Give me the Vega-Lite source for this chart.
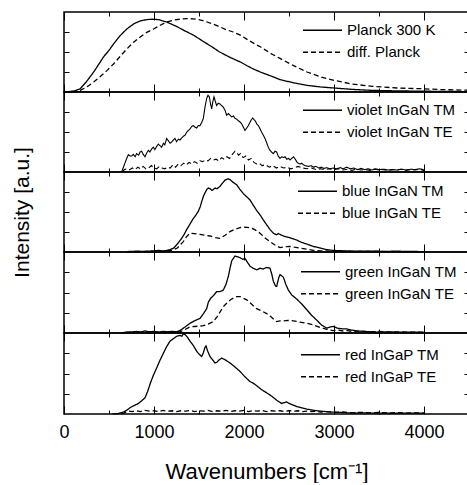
{
"$schema":"https://vega.github.io/schema/vega-lite/v6.json",
"padding":{"left":10,"top":10,"right":0,"bottom":0},
"spacing":0,
"bounds":"flush",
"config":{
 "view":{"stroke":"black","strokeWidth":1.5},
 "font":"Liberation Sans",
 "axis":{"domain":false,"grid":false,"tickColor":"black","tickWidth":1,"labelColor":"black","titleColor":"black","titleFontWeight":"normal","labelFont":"Liberation Sans","titleFont":"Liberation Sans"},
 "legend":{"labelFont":"Liberation Sans","labelFontSize":15,"labelColor":"black","symbolStrokeColor":"black","symbolStrokeWidth":1.3,"symbolSize":1521,"labelOffset":4,"padding":0,"rowPadding":2,"clipHeight":19.5}
},
"datasets":{"d":[
{"p":1,"s":"Planck 300 K","x":0,"y":0},{"p":1,"s":"Planck 300 K","x":60,"y":0.005},{"p":1,"s":"Planck 300 K","x":120,"y":0.015},{"p":1,"s":"Planck 300 K","x":180,"y":0.04},{"p":1,"s":"Planck 300 K","x":250,"y":0.13},{"p":1,"s":"Planck 300 K","x":330,"y":0.25},{"p":1,"s":"Planck 300 K","x":400,"y":0.37},{"p":1,"s":"Planck 300 K","x":440,"y":0.44},{"p":1,"s":"Planck 300 K","x":500,"y":0.52},{"p":1,"s":"Planck 300 K","x":550,"y":0.6},{"p":1,"s":"Planck 300 K","x":620,"y":0.7},{"p":1,"s":"Planck 300 K","x":700,"y":0.79},{"p":1,"s":"Planck 300 K","x":780,"y":0.855},{"p":1,"s":"Planck 300 K","x":850,"y":0.89},{"p":1,"s":"Planck 300 K","x":920,"y":0.905},{"p":1,"s":"Planck 300 K","x":980,"y":0.91},{"p":1,"s":"Planck 300 K","x":1050,"y":0.905},{"p":1,"s":"Planck 300 K","x":1140,"y":0.875},{"p":1,"s":"Planck 300 K","x":1250,"y":0.82},{"p":1,"s":"Planck 300 K","x":1350,"y":0.76},{"p":1,"s":"Planck 300 K","x":1440,"y":0.71},{"p":1,"s":"Planck 300 K","x":1550,"y":0.63},{"p":1,"s":"Planck 300 K","x":1650,"y":0.56},{"p":1,"s":"Planck 300 K","x":1730,"y":0.5},{"p":1,"s":"Planck 300 K","x":1850,"y":0.43},{"p":1,"s":"Planck 300 K","x":1960,"y":0.375},{"p":1,"s":"Planck 300 K","x":2030,"y":0.33},{"p":1,"s":"Planck 300 K","x":2100,"y":0.29},{"p":1,"s":"Planck 300 K","x":2180,"y":0.25},{"p":1,"s":"Planck 300 K","x":2300,"y":0.2},{"p":1,"s":"Planck 300 K","x":2400,"y":0.155},{"p":1,"s":"Planck 300 K","x":2550,"y":0.115},{"p":1,"s":"Planck 300 K","x":2700,"y":0.083},{"p":1,"s":"Planck 300 K","x":2850,"y":0.063},{"p":1,"s":"Planck 300 K","x":3000,"y":0.05},{"p":1,"s":"Planck 300 K","x":3200,"y":0.033},{"p":1,"s":"Planck 300 K","x":3430,"y":0.02},{"p":1,"s":"Planck 300 K","x":3700,"y":0.014},{"p":1,"s":"Planck 300 K","x":4000,"y":0.01},{"p":1,"s":"Planck 300 K","x":4250,"y":0.007},{"p":1,"s":"Planck 300 K","x":4500,"y":0.005},
{"p":1,"s":"diff. Planck","x":0,"y":0},{"p":1,"s":"diff. Planck","x":60,"y":0.003},{"p":1,"s":"diff. Planck","x":120,"y":0.008},{"p":1,"s":"diff. Planck","x":180,"y":0.02},{"p":1,"s":"diff. Planck","x":250,"y":0.06},{"p":1,"s":"diff. Planck","x":330,"y":0.125},{"p":1,"s":"diff. Planck","x":400,"y":0.19},{"p":1,"s":"diff. Planck","x":480,"y":0.27},{"p":1,"s":"diff. Planck","x":550,"y":0.35},{"p":1,"s":"diff. Planck","x":620,"y":0.44},{"p":1,"s":"diff. Planck","x":700,"y":0.54},{"p":1,"s":"diff. Planck","x":770,"y":0.62},{"p":1,"s":"diff. Planck","x":850,"y":0.69},{"p":1,"s":"diff. Planck","x":920,"y":0.745},{"p":1,"s":"diff. Planck","x":1000,"y":0.79},{"p":1,"s":"diff. Planck","x":1070,"y":0.835},{"p":1,"s":"diff. Planck","x":1140,"y":0.875},{"p":1,"s":"diff. Planck","x":1220,"y":0.9},{"p":1,"s":"diff. Planck","x":1290,"y":0.91},{"p":1,"s":"diff. Planck","x":1360,"y":0.917},{"p":1,"s":"diff. Planck","x":1430,"y":0.915},{"p":1,"s":"diff. Planck","x":1500,"y":0.905},{"p":1,"s":"diff. Planck","x":1590,"y":0.875},{"p":1,"s":"diff. Planck","x":1700,"y":0.83},{"p":1,"s":"diff. Planck","x":1800,"y":0.78},{"p":1,"s":"diff. Planck","x":1880,"y":0.75},{"p":1,"s":"diff. Planck","x":1960,"y":0.71},{"p":1,"s":"diff. Planck","x":2060,"y":0.64},{"p":1,"s":"diff. Planck","x":2180,"y":0.565},{"p":1,"s":"diff. Planck","x":2300,"y":0.48},{"p":1,"s":"diff. Planck","x":2400,"y":0.42},{"p":1,"s":"diff. Planck","x":2550,"y":0.33},{"p":1,"s":"diff. Planck","x":2700,"y":0.25},{"p":1,"s":"diff. Planck","x":2850,"y":0.19},{"p":1,"s":"diff. Planck","x":3000,"y":0.146},{"p":1,"s":"diff. Planck","x":3200,"y":0.1},{"p":1,"s":"diff. Planck","x":3430,"y":0.07},{"p":1,"s":"diff. Planck","x":3700,"y":0.05},{"p":1,"s":"diff. Planck","x":4000,"y":0.04},{"p":1,"s":"diff. Planck","x":4200,"y":0.03},{"p":1,"s":"diff. Planck","x":4500,"y":0.022},
{"p":2,"s":"violet InGaN TM","x":640,"y":0},{"p":2,"s":"violet InGaN TM","x":660,"y":0.06},{"p":2,"s":"violet InGaN TM","x":690,"y":0.15},{"p":2,"s":"violet InGaN TM","x":715,"y":0.217},{"p":2,"s":"violet InGaN TM","x":735,"y":0.2},{"p":2,"s":"violet InGaN TM","x":752,"y":0.2},{"p":2,"s":"violet InGaN TM","x":770,"y":0.22},{"p":2,"s":"violet InGaN TM","x":790,"y":0.19},{"p":2,"s":"violet InGaN TM","x":807,"y":0.23},{"p":2,"s":"violet InGaN TM","x":830,"y":0.21},{"p":2,"s":"violet InGaN TM","x":845,"y":0.25},{"p":2,"s":"violet InGaN TM","x":863,"y":0.26},{"p":2,"s":"violet InGaN TM","x":880,"y":0.22},{"p":2,"s":"violet InGaN TM","x":900,"y":0.19},{"p":2,"s":"violet InGaN TM","x":920,"y":0.24},{"p":2,"s":"violet InGaN TM","x":937,"y":0.27},{"p":2,"s":"violet InGaN TM","x":955,"y":0.25},{"p":2,"s":"violet InGaN TM","x":975,"y":0.29},{"p":2,"s":"violet InGaN TM","x":993,"y":0.31},{"p":2,"s":"violet InGaN TM","x":1010,"y":0.28},{"p":2,"s":"violet InGaN TM","x":1030,"y":0.32},{"p":2,"s":"violet InGaN TM","x":1048,"y":0.35},{"p":2,"s":"violet InGaN TM","x":1066,"y":0.33},{"p":2,"s":"violet InGaN TM","x":1085,"y":0.31},{"p":2,"s":"violet InGaN TM","x":1105,"y":0.36},{"p":2,"s":"violet InGaN TM","x":1120,"y":0.34},{"p":2,"s":"violet InGaN TM","x":1141,"y":0.42},{"p":2,"s":"violet InGaN TM","x":1160,"y":0.39},{"p":2,"s":"violet InGaN TM","x":1178,"y":0.36},{"p":2,"s":"violet InGaN TM","x":1196,"y":0.375},{"p":2,"s":"violet InGaN TM","x":1215,"y":0.4},{"p":2,"s":"violet InGaN TM","x":1233,"y":0.42},{"p":2,"s":"violet InGaN TM","x":1250,"y":0.38},{"p":2,"s":"violet InGaN TM","x":1270,"y":0.41},{"p":2,"s":"violet InGaN TM","x":1289,"y":0.4},{"p":2,"s":"violet InGaN TM","x":1310,"y":0.43},{"p":2,"s":"violet InGaN TM","x":1330,"y":0.45},{"p":2,"s":"violet InGaN TM","x":1345,"y":0.46},{"p":2,"s":"violet InGaN TM","x":1365,"y":0.5},{"p":2,"s":"violet InGaN TM","x":1383,"y":0.52},{"p":2,"s":"violet InGaN TM","x":1400,"y":0.54},{"p":2,"s":"violet InGaN TM","x":1420,"y":0.57},{"p":2,"s":"violet InGaN TM","x":1437,"y":0.58},{"p":2,"s":"violet InGaN TM","x":1456,"y":0.56},{"p":2,"s":"violet InGaN TM","x":1474,"y":0.55},{"p":2,"s":"violet InGaN TM","x":1492,"y":0.58},{"p":2,"s":"violet InGaN TM","x":1511,"y":0.58},{"p":2,"s":"violet InGaN TM","x":1530,"y":0.62},{"p":2,"s":"violet InGaN TM","x":1548,"y":0.67},{"p":2,"s":"violet InGaN TM","x":1565,"y":0.8},{"p":2,"s":"violet InGaN TM","x":1585,"y":0.92},{"p":2,"s":"violet InGaN TM","x":1600,"y":0.96},{"p":2,"s":"violet InGaN TM","x":1615,"y":0.94},{"p":2,"s":"violet InGaN TM","x":1628,"y":0.85},{"p":2,"s":"violet InGaN TM","x":1641,"y":0.79},{"p":2,"s":"violet InGaN TM","x":1654,"y":0.88},{"p":2,"s":"violet InGaN TM","x":1667,"y":0.94},{"p":2,"s":"violet InGaN TM","x":1682,"y":0.88},{"p":2,"s":"violet InGaN TM","x":1696,"y":0.83},{"p":2,"s":"violet InGaN TM","x":1714,"y":0.86},{"p":2,"s":"violet InGaN TM","x":1733,"y":0.85},{"p":2,"s":"violet InGaN TM","x":1752,"y":0.83},{"p":2,"s":"violet InGaN TM","x":1770,"y":0.81},{"p":2,"s":"violet InGaN TM","x":1790,"y":0.77},{"p":2,"s":"violet InGaN TM","x":1807,"y":0.71},{"p":2,"s":"violet InGaN TM","x":1826,"y":0.73},{"p":2,"s":"violet InGaN TM","x":1844,"y":0.71},{"p":2,"s":"violet InGaN TM","x":1863,"y":0.69},{"p":2,"s":"violet InGaN TM","x":1882,"y":0.7},{"p":2,"s":"violet InGaN TM","x":1900,"y":0.67},{"p":2,"s":"violet InGaN TM","x":1920,"y":0.66},{"p":2,"s":"violet InGaN TM","x":1938,"y":0.64},{"p":2,"s":"violet InGaN TM","x":1956,"y":0.625},{"p":2,"s":"violet InGaN TM","x":1975,"y":0.6},{"p":2,"s":"violet InGaN TM","x":1993,"y":0.56},{"p":2,"s":"violet InGaN TM","x":2011,"y":0.52},{"p":2,"s":"violet InGaN TM","x":2030,"y":0.55},{"p":2,"s":"violet InGaN TM","x":2048,"y":0.58},{"p":2,"s":"violet InGaN TM","x":2066,"y":0.62},{"p":2,"s":"violet InGaN TM","x":2080,"y":0.65},{"p":2,"s":"violet InGaN TM","x":2096,"y":0.675},{"p":2,"s":"violet InGaN TM","x":2115,"y":0.65},{"p":2,"s":"violet InGaN TM","x":2130,"y":0.63},{"p":2,"s":"violet InGaN TM","x":2141,"y":0.6},{"p":2,"s":"violet InGaN TM","x":2160,"y":0.58},{"p":2,"s":"violet InGaN TM","x":2178,"y":0.54},{"p":2,"s":"violet InGaN TM","x":2195,"y":0.5},{"p":2,"s":"violet InGaN TM","x":2215,"y":0.46},{"p":2,"s":"violet InGaN TM","x":2233,"y":0.42},{"p":2,"s":"violet InGaN TM","x":2250,"y":0.37},{"p":2,"s":"violet InGaN TM","x":2270,"y":0.31},{"p":2,"s":"violet InGaN TM","x":2289,"y":0.27},{"p":2,"s":"violet InGaN TM","x":2305,"y":0.25},{"p":2,"s":"violet InGaN TM","x":2326,"y":0.23},{"p":2,"s":"violet InGaN TM","x":2345,"y":0.26},{"p":2,"s":"violet InGaN TM","x":2363,"y":0.25},{"p":2,"s":"violet InGaN TM","x":2380,"y":0.2},{"p":2,"s":"violet InGaN TM","x":2400,"y":0.17},{"p":2,"s":"violet InGaN TM","x":2420,"y":0.19},{"p":2,"s":"violet InGaN TM","x":2440,"y":0.18},{"p":2,"s":"violet InGaN TM","x":2456,"y":0.19},{"p":2,"s":"violet InGaN TM","x":2475,"y":0.16},{"p":2,"s":"violet InGaN TM","x":2495,"y":0.17},{"p":2,"s":"violet InGaN TM","x":2511,"y":0.15},{"p":2,"s":"violet InGaN TM","x":2530,"y":0.17},{"p":2,"s":"violet InGaN TM","x":2550,"y":0.19},{"p":2,"s":"violet InGaN TM","x":2570,"y":0.16},{"p":2,"s":"violet InGaN TM","x":2590,"y":0.12},{"p":2,"s":"violet InGaN TM","x":2605,"y":0.11},{"p":2,"s":"violet InGaN TM","x":2622,"y":0.1},{"p":2,"s":"violet InGaN TM","x":2640,"y":0.11},{"p":2,"s":"violet InGaN TM","x":2660,"y":0.09},{"p":2,"s":"violet InGaN TM","x":2680,"y":0.08},{"p":2,"s":"violet InGaN TM","x":2696,"y":0.075},{"p":2,"s":"violet InGaN TM","x":2720,"y":0.07},{"p":2,"s":"violet InGaN TM","x":2745,"y":0.08},{"p":2,"s":"violet InGaN TM","x":2770,"y":0.06},{"p":2,"s":"violet InGaN TM","x":2800,"y":0.07},{"p":2,"s":"violet InGaN TM","x":2830,"y":0.05},{"p":2,"s":"violet InGaN TM","x":2860,"y":0.06},{"p":2,"s":"violet InGaN TM","x":2890,"y":0.045},{"p":2,"s":"violet InGaN TM","x":2920,"y":0.055},{"p":2,"s":"violet InGaN TM","x":2950,"y":0.04},{"p":2,"s":"violet InGaN TM","x":2993,"y":0.05},{"p":2,"s":"violet InGaN TM","x":3030,"y":0.04},{"p":2,"s":"violet InGaN TM","x":3070,"y":0.055},{"p":2,"s":"violet InGaN TM","x":3100,"y":0.04},{"p":2,"s":"violet InGaN TM","x":3141,"y":0.06},{"p":2,"s":"violet InGaN TM","x":3180,"y":0.04},{"p":2,"s":"violet InGaN TM","x":3220,"y":0.05},{"p":2,"s":"violet InGaN TM","x":3260,"y":0.03},{"p":2,"s":"violet InGaN TM","x":3300,"y":0.045},{"p":2,"s":"violet InGaN TM","x":3340,"y":0.03},{"p":2,"s":"violet InGaN TM","x":3380,"y":0.04},{"p":2,"s":"violet InGaN TM","x":3420,"y":0.025},{"p":2,"s":"violet InGaN TM","x":3460,"y":0.04},{"p":2,"s":"violet InGaN TM","x":3500,"y":0.03},{"p":2,"s":"violet InGaN TM","x":3550,"y":0.035},{"p":2,"s":"violet InGaN TM","x":3600,"y":0.025},{"p":2,"s":"violet InGaN TM","x":3650,"y":0.03},{"p":2,"s":"violet InGaN TM","x":3700,"y":0.025},{"p":2,"s":"violet InGaN TM","x":3750,"y":0.035},{"p":2,"s":"violet InGaN TM","x":3800,"y":0.025},{"p":2,"s":"violet InGaN TM","x":3850,"y":0.035},{"p":2,"s":"violet InGaN TM","x":3900,"y":0.03},{"p":2,"s":"violet InGaN TM","x":3950,"y":0.04},{"p":2,"s":"violet InGaN TM","x":3990,"y":0.03},{"p":2,"s":"violet InGaN TM","x":4000,"y":0.01},
{"p":2,"s":"violet InGaN TE","x":650,"y":0},{"p":2,"s":"violet InGaN TE","x":670,"y":0.03},{"p":2,"s":"violet InGaN TE","x":700,"y":0.04},{"p":2,"s":"violet InGaN TE","x":730,"y":0.03},{"p":2,"s":"violet InGaN TE","x":760,"y":0.05},{"p":2,"s":"violet InGaN TE","x":790,"y":0.03},{"p":2,"s":"violet InGaN TE","x":820,"y":0.06},{"p":2,"s":"violet InGaN TE","x":850,"y":0.04},{"p":2,"s":"violet InGaN TE","x":880,"y":0.07},{"p":2,"s":"violet InGaN TE","x":910,"y":0.04},{"p":2,"s":"violet InGaN TE","x":940,"y":0.05},{"p":2,"s":"violet InGaN TE","x":970,"y":0.08},{"p":2,"s":"violet InGaN TE","x":1000,"y":0.05},{"p":2,"s":"violet InGaN TE","x":1030,"y":0.04},{"p":2,"s":"violet InGaN TE","x":1060,"y":0.07},{"p":2,"s":"violet InGaN TE","x":1090,"y":0.05},{"p":2,"s":"violet InGaN TE","x":1120,"y":0.04},{"p":2,"s":"violet InGaN TE","x":1150,"y":0.06},{"p":2,"s":"violet InGaN TE","x":1180,"y":0.05},{"p":2,"s":"violet InGaN TE","x":1210,"y":0.09},{"p":2,"s":"violet InGaN TE","x":1240,"y":0.06},{"p":2,"s":"violet InGaN TE","x":1270,"y":0.1},{"p":2,"s":"violet InGaN TE","x":1300,"y":0.08},{"p":2,"s":"violet InGaN TE","x":1330,"y":0.11},{"p":2,"s":"violet InGaN TE","x":1360,"y":0.09},{"p":2,"s":"violet InGaN TE","x":1390,"y":0.12},{"p":2,"s":"violet InGaN TE","x":1420,"y":0.1},{"p":2,"s":"violet InGaN TE","x":1450,"y":0.13},{"p":2,"s":"violet InGaN TE","x":1480,"y":0.11},{"p":2,"s":"violet InGaN TE","x":1510,"y":0.14},{"p":2,"s":"violet InGaN TE","x":1540,"y":0.13},{"p":2,"s":"violet InGaN TE","x":1570,"y":0.15},{"p":2,"s":"violet InGaN TE","x":1600,"y":0.14},{"p":2,"s":"violet InGaN TE","x":1630,"y":0.17},{"p":2,"s":"violet InGaN TE","x":1660,"y":0.15},{"p":2,"s":"violet InGaN TE","x":1690,"y":0.16},{"p":2,"s":"violet InGaN TE","x":1720,"y":0.14},{"p":2,"s":"violet InGaN TE","x":1750,"y":0.18},{"p":2,"s":"violet InGaN TE","x":1780,"y":0.16},{"p":2,"s":"violet InGaN TE","x":1810,"y":0.19},{"p":2,"s":"violet InGaN TE","x":1840,"y":0.17},{"p":2,"s":"violet InGaN TE","x":1870,"y":0.22},{"p":2,"s":"violet InGaN TE","x":1900,"y":0.26},{"p":2,"s":"violet InGaN TE","x":1920,"y":0.24},{"p":2,"s":"violet InGaN TE","x":1940,"y":0.21},{"p":2,"s":"violet InGaN TE","x":1960,"y":0.23},{"p":2,"s":"violet InGaN TE","x":1990,"y":0.18},{"p":2,"s":"violet InGaN TE","x":2020,"y":0.2},{"p":2,"s":"violet InGaN TE","x":2050,"y":0.15},{"p":2,"s":"violet InGaN TE","x":2080,"y":0.17},{"p":2,"s":"violet InGaN TE","x":2110,"y":0.12},{"p":2,"s":"violet InGaN TE","x":2140,"y":0.1},{"p":2,"s":"violet InGaN TE","x":2170,"y":0.11},{"p":2,"s":"violet InGaN TE","x":2200,"y":0.08},{"p":2,"s":"violet InGaN TE","x":2240,"y":0.09},{"p":2,"s":"violet InGaN TE","x":2280,"y":0.06},{"p":2,"s":"violet InGaN TE","x":2320,"y":0.08},{"p":2,"s":"violet InGaN TE","x":2360,"y":0.05},{"p":2,"s":"violet InGaN TE","x":2400,"y":0.07},{"p":2,"s":"violet InGaN TE","x":2440,"y":0.05},{"p":2,"s":"violet InGaN TE","x":2480,"y":0.06},{"p":2,"s":"violet InGaN TE","x":2520,"y":0.04},{"p":2,"s":"violet InGaN TE","x":2560,"y":0.05},{"p":2,"s":"violet InGaN TE","x":2600,"y":0.07},{"p":2,"s":"violet InGaN TE","x":2650,"y":0.05},{"p":2,"s":"violet InGaN TE","x":2700,"y":0.04},{"p":2,"s":"violet InGaN TE","x":2750,"y":0.05},{"p":2,"s":"violet InGaN TE","x":2800,"y":0.03},{"p":2,"s":"violet InGaN TE","x":2850,"y":0.04},{"p":2,"s":"violet InGaN TE","x":2900,"y":0.03},{"p":2,"s":"violet InGaN TE","x":2950,"y":0.04},{"p":2,"s":"violet InGaN TE","x":3000,"y":0.03},{"p":2,"s":"violet InGaN TE","x":3050,"y":0.04},{"p":2,"s":"violet InGaN TE","x":3100,"y":0.025},{"p":2,"s":"violet InGaN TE","x":3150,"y":0.035},{"p":2,"s":"violet InGaN TE","x":3200,"y":0.02},{"p":2,"s":"violet InGaN TE","x":3250,"y":0.035},{"p":2,"s":"violet InGaN TE","x":3300,"y":0.025},{"p":2,"s":"violet InGaN TE","x":3350,"y":0.03},{"p":2,"s":"violet InGaN TE","x":3400,"y":0.02},{"p":2,"s":"violet InGaN TE","x":3450,"y":0.035},{"p":2,"s":"violet InGaN TE","x":3500,"y":0.025},{"p":2,"s":"violet InGaN TE","x":3550,"y":0.03},{"p":2,"s":"violet InGaN TE","x":3600,"y":0.02},{"p":2,"s":"violet InGaN TE","x":3650,"y":0.03},{"p":2,"s":"violet InGaN TE","x":3700,"y":0.025},{"p":2,"s":"violet InGaN TE","x":3750,"y":0.035},{"p":2,"s":"violet InGaN TE","x":3800,"y":0.02},{"p":2,"s":"violet InGaN TE","x":3850,"y":0.03},{"p":2,"s":"violet InGaN TE","x":3900,"y":0.025},{"p":2,"s":"violet InGaN TE","x":3950,"y":0.035},{"p":2,"s":"violet InGaN TE","x":4000,"y":0.02},
{"p":3,"s":"blue InGaN TM","x":700,"y":0.005},{"p":3,"s":"blue InGaN TM","x":800,"y":0.01},{"p":3,"s":"blue InGaN TM","x":900,"y":0.008},{"p":3,"s":"blue InGaN TM","x":1000,"y":0.015},{"p":3,"s":"blue InGaN TM","x":1050,"y":0.02},{"p":3,"s":"blue InGaN TM","x":1100,"y":0.012},{"p":3,"s":"blue InGaN TM","x":1141,"y":0.02},{"p":3,"s":"blue InGaN TM","x":1180,"y":0.03},{"p":3,"s":"blue InGaN TM","x":1220,"y":0.05},{"p":3,"s":"blue InGaN TM","x":1252,"y":0.09},{"p":3,"s":"blue InGaN TM","x":1280,"y":0.13},{"p":3,"s":"blue InGaN TM","x":1307,"y":0.17},{"p":3,"s":"blue InGaN TM","x":1335,"y":0.22},{"p":3,"s":"blue InGaN TM","x":1363,"y":0.28},{"p":3,"s":"blue InGaN TM","x":1400,"y":0.35},{"p":3,"s":"blue InGaN TM","x":1437,"y":0.42},{"p":3,"s":"blue InGaN TM","x":1465,"y":0.46},{"p":3,"s":"blue InGaN TM","x":1493,"y":0.51},{"p":3,"s":"blue InGaN TM","x":1515,"y":0.57},{"p":3,"s":"blue InGaN TM","x":1530,"y":0.63},{"p":3,"s":"blue InGaN TM","x":1550,"y":0.7},{"p":3,"s":"blue InGaN TM","x":1567,"y":0.74},{"p":3,"s":"blue InGaN TM","x":1585,"y":0.78},{"p":3,"s":"blue InGaN TM","x":1604,"y":0.8},{"p":3,"s":"blue InGaN TM","x":1625,"y":0.79},{"p":3,"s":"blue InGaN TM","x":1645,"y":0.77},{"p":3,"s":"blue InGaN TM","x":1659,"y":0.78},{"p":3,"s":"blue InGaN TM","x":1680,"y":0.8},{"p":3,"s":"blue InGaN TM","x":1700,"y":0.79},{"p":3,"s":"blue InGaN TM","x":1733,"y":0.82},{"p":3,"s":"blue InGaN TM","x":1760,"y":0.86},{"p":3,"s":"blue InGaN TM","x":1790,"y":0.9},{"p":3,"s":"blue InGaN TM","x":1826,"y":0.915},{"p":3,"s":"blue InGaN TM","x":1850,"y":0.9},{"p":3,"s":"blue InGaN TM","x":1880,"y":0.87},{"p":3,"s":"blue InGaN TM","x":1919,"y":0.84},{"p":3,"s":"blue InGaN TM","x":1950,"y":0.79},{"p":3,"s":"blue InGaN TM","x":1993,"y":0.73},{"p":3,"s":"blue InGaN TM","x":2030,"y":0.69},{"p":3,"s":"blue InGaN TM","x":2067,"y":0.65},{"p":3,"s":"blue InGaN TM","x":2100,"y":0.59},{"p":3,"s":"blue InGaN TM","x":2140,"y":0.52},{"p":3,"s":"blue InGaN TM","x":2178,"y":0.465},{"p":3,"s":"blue InGaN TM","x":2215,"y":0.4},{"p":3,"s":"blue InGaN TM","x":2252,"y":0.34},{"p":3,"s":"blue InGaN TM","x":2290,"y":0.28},{"p":3,"s":"blue InGaN TM","x":2326,"y":0.235},{"p":3,"s":"blue InGaN TM","x":2360,"y":0.215},{"p":3,"s":"blue InGaN TM","x":2380,"y":0.23},{"p":3,"s":"blue InGaN TM","x":2400,"y":0.22},{"p":3,"s":"blue InGaN TM","x":2437,"y":0.2},{"p":3,"s":"blue InGaN TM","x":2474,"y":0.19},{"p":3,"s":"blue InGaN TM","x":2530,"y":0.17},{"p":3,"s":"blue InGaN TM","x":2585,"y":0.15},{"p":3,"s":"blue InGaN TM","x":2640,"y":0.12},{"p":3,"s":"blue InGaN TM","x":2696,"y":0.1},{"p":3,"s":"blue InGaN TM","x":2770,"y":0.07},{"p":3,"s":"blue InGaN TM","x":2844,"y":0.05},{"p":3,"s":"blue InGaN TM","x":2920,"y":0.03},{"p":3,"s":"blue InGaN TM","x":2993,"y":0.02},{"p":3,"s":"blue InGaN TM","x":3100,"y":0.015},{"p":3,"s":"blue InGaN TM","x":3250,"y":0.01},{"p":3,"s":"blue InGaN TM","x":3400,"y":0.012},{"p":3,"s":"blue InGaN TM","x":3550,"y":0.008},{"p":3,"s":"blue InGaN TM","x":3700,"y":0.01},{"p":3,"s":"blue InGaN TM","x":3850,"y":0.007},{"p":3,"s":"blue InGaN TM","x":4000,"y":0.005},
{"p":3,"s":"blue InGaN TE","x":700,"y":0.005},{"p":3,"s":"blue InGaN TE","x":900,"y":0.006},{"p":3,"s":"blue InGaN TE","x":1100,"y":0.01},{"p":3,"s":"blue InGaN TE","x":1200,"y":0.02},{"p":3,"s":"blue InGaN TE","x":1260,"y":0.05},{"p":3,"s":"blue InGaN TE","x":1300,"y":0.1},{"p":3,"s":"blue InGaN TE","x":1326,"y":0.13},{"p":3,"s":"blue InGaN TE","x":1360,"y":0.19},{"p":3,"s":"blue InGaN TE","x":1400,"y":0.235},{"p":3,"s":"blue InGaN TE","x":1450,"y":0.23},{"p":3,"s":"blue InGaN TE","x":1511,"y":0.22},{"p":3,"s":"blue InGaN TE","x":1560,"y":0.21},{"p":3,"s":"blue InGaN TE","x":1622,"y":0.2},{"p":3,"s":"blue InGaN TE","x":1680,"y":0.18},{"p":3,"s":"blue InGaN TE","x":1733,"y":0.17},{"p":3,"s":"blue InGaN TE","x":1790,"y":0.21},{"p":3,"s":"blue InGaN TE","x":1844,"y":0.255},{"p":3,"s":"blue InGaN TE","x":1900,"y":0.285},{"p":3,"s":"blue InGaN TE","x":1956,"y":0.305},{"p":3,"s":"blue InGaN TE","x":2010,"y":0.31},{"p":3,"s":"blue InGaN TE","x":2067,"y":0.305},{"p":3,"s":"blue InGaN TE","x":2120,"y":0.28},{"p":3,"s":"blue InGaN TE","x":2178,"y":0.235},{"p":3,"s":"blue InGaN TE","x":2230,"y":0.18},{"p":3,"s":"blue InGaN TE","x":2289,"y":0.13},{"p":3,"s":"blue InGaN TE","x":2340,"y":0.09},{"p":3,"s":"blue InGaN TE","x":2400,"y":0.056},{"p":3,"s":"blue InGaN TE","x":2450,"y":0.065},{"p":3,"s":"blue InGaN TE","x":2511,"y":0.07},{"p":3,"s":"blue InGaN TE","x":2560,"y":0.06},{"p":3,"s":"blue InGaN TE","x":2622,"y":0.05},{"p":3,"s":"blue InGaN TE","x":2700,"y":0.035},{"p":3,"s":"blue InGaN TE","x":2770,"y":0.02},{"p":3,"s":"blue InGaN TE","x":2850,"y":0.015},{"p":3,"s":"blue InGaN TE","x":3000,"y":0.01},{"p":3,"s":"blue InGaN TE","x":3200,"y":0.008},{"p":3,"s":"blue InGaN TE","x":3500,"y":0.006},{"p":3,"s":"blue InGaN TE","x":4000,"y":0.005},
{"p":4,"s":"green InGaN TM","x":640,"y":0},{"p":4,"s":"green InGaN TM","x":680,"y":0.01},{"p":4,"s":"green InGaN TM","x":720,"y":0.015},{"p":4,"s":"green InGaN TM","x":760,"y":0.01},{"p":4,"s":"green InGaN TM","x":800,"y":0.02},{"p":4,"s":"green InGaN TM","x":850,"y":0.012},{"p":4,"s":"green InGaN TM","x":900,"y":0.025},{"p":4,"s":"green InGaN TM","x":950,"y":0.015},{"p":4,"s":"green InGaN TM","x":1000,"y":0.02},{"p":4,"s":"green InGaN TM","x":1050,"y":0.012},{"p":4,"s":"green InGaN TM","x":1100,"y":0.02},{"p":4,"s":"green InGaN TM","x":1150,"y":0.015},{"p":4,"s":"green InGaN TM","x":1200,"y":0.02},{"p":4,"s":"green InGaN TM","x":1250,"y":0.015},{"p":4,"s":"green InGaN TM","x":1289,"y":0.03},{"p":4,"s":"green InGaN TM","x":1340,"y":0.07},{"p":4,"s":"green InGaN TM","x":1400,"y":0.12},{"p":4,"s":"green InGaN TM","x":1450,"y":0.15},{"p":4,"s":"green InGaN TM","x":1511,"y":0.18},{"p":4,"s":"green InGaN TM","x":1550,"y":0.24},{"p":4,"s":"green InGaN TM","x":1585,"y":0.3},{"p":4,"s":"green InGaN TM","x":1604,"y":0.38},{"p":4,"s":"green InGaN TM","x":1630,"y":0.43},{"p":4,"s":"green InGaN TM","x":1659,"y":0.46},{"p":4,"s":"green InGaN TM","x":1696,"y":0.51},{"p":4,"s":"green InGaN TM","x":1733,"y":0.51},{"p":4,"s":"green InGaN TM","x":1770,"y":0.53},{"p":4,"s":"green InGaN TM","x":1800,"y":0.6},{"p":4,"s":"green InGaN TM","x":1826,"y":0.7},{"p":4,"s":"green InGaN TM","x":1845,"y":0.8},{"p":4,"s":"green InGaN TM","x":1863,"y":0.89},{"p":4,"s":"green InGaN TM","x":1900,"y":0.95},{"p":4,"s":"green InGaN TM","x":1930,"y":0.94},{"p":4,"s":"green InGaN TM","x":1956,"y":0.93},{"p":4,"s":"green InGaN TM","x":1985,"y":0.91},{"p":4,"s":"green InGaN TM","x":2011,"y":0.92},{"p":4,"s":"green InGaN TM","x":2040,"y":0.87},{"p":4,"s":"green InGaN TM","x":2067,"y":0.825},{"p":4,"s":"green InGaN TM","x":2100,"y":0.8},{"p":4,"s":"green InGaN TM","x":2141,"y":0.78},{"p":4,"s":"green InGaN TM","x":2180,"y":0.8},{"p":4,"s":"green InGaN TM","x":2215,"y":0.79},{"p":4,"s":"green InGaN TM","x":2250,"y":0.81},{"p":4,"s":"green InGaN TM","x":2289,"y":0.8},{"p":4,"s":"green InGaN TM","x":2310,"y":0.72},{"p":4,"s":"green InGaN TM","x":2326,"y":0.64},{"p":4,"s":"green InGaN TM","x":2350,"y":0.58},{"p":4,"s":"green InGaN TM","x":2363,"y":0.575},{"p":4,"s":"green InGaN TM","x":2385,"y":0.68},{"p":4,"s":"green InGaN TM","x":2400,"y":0.72},{"p":4,"s":"green InGaN TM","x":2437,"y":0.69},{"p":4,"s":"green InGaN TM","x":2465,"y":0.6},{"p":4,"s":"green InGaN TM","x":2493,"y":0.53},{"p":4,"s":"green InGaN TM","x":2530,"y":0.47},{"p":4,"s":"green InGaN TM","x":2585,"y":0.42},{"p":4,"s":"green InGaN TM","x":2640,"y":0.36},{"p":4,"s":"green InGaN TM","x":2696,"y":0.29},{"p":4,"s":"green InGaN TM","x":2750,"y":0.22},{"p":4,"s":"green InGaN TM","x":2807,"y":0.16},{"p":4,"s":"green InGaN TM","x":2860,"y":0.1},{"p":4,"s":"green InGaN TM","x":2919,"y":0.06},{"p":4,"s":"green InGaN TM","x":2960,"y":0.075},{"p":4,"s":"green InGaN TM","x":2993,"y":0.08},{"p":4,"s":"green InGaN TM","x":3040,"y":0.06},{"p":4,"s":"green InGaN TM","x":3100,"y":0.05},{"p":4,"s":"green InGaN TM","x":3141,"y":0.05},{"p":4,"s":"green InGaN TM","x":3200,"y":0.035},{"p":4,"s":"green InGaN TM","x":3260,"y":0.025},{"p":4,"s":"green InGaN TM","x":3320,"y":0.02},{"p":4,"s":"green InGaN TM","x":3400,"y":0.015},{"p":4,"s":"green InGaN TM","x":3500,"y":0.01},{"p":4,"s":"green InGaN TM","x":3600,"y":0.015},{"p":4,"s":"green InGaN TM","x":3700,"y":0.01},{"p":4,"s":"green InGaN TM","x":3800,"y":0.012},{"p":4,"s":"green InGaN TM","x":3900,"y":0.01},{"p":4,"s":"green InGaN TM","x":4000,"y":0.008},
{"p":4,"s":"green InGaN TE","x":640,"y":0},{"p":4,"s":"green InGaN TE","x":700,"y":0.005},{"p":4,"s":"green InGaN TE","x":800,"y":0.01},{"p":4,"s":"green InGaN TE","x":900,"y":0.008},{"p":4,"s":"green InGaN TE","x":1000,"y":0.012},{"p":4,"s":"green InGaN TE","x":1100,"y":0.01},{"p":4,"s":"green InGaN TE","x":1200,"y":0.012},{"p":4,"s":"green InGaN TE","x":1289,"y":0.015},{"p":4,"s":"green InGaN TE","x":1340,"y":0.04},{"p":4,"s":"green InGaN TE","x":1400,"y":0.075},{"p":4,"s":"green InGaN TE","x":1450,"y":0.08},{"p":4,"s":"green InGaN TE","x":1500,"y":0.085},{"p":4,"s":"green InGaN TE","x":1548,"y":0.09},{"p":4,"s":"green InGaN TE","x":1600,"y":0.11},{"p":4,"s":"green InGaN TE","x":1659,"y":0.14},{"p":4,"s":"green InGaN TE","x":1700,"y":0.2},{"p":4,"s":"green InGaN TE","x":1740,"y":0.27},{"p":4,"s":"green InGaN TE","x":1770,"y":0.325},{"p":4,"s":"green InGaN TE","x":1810,"y":0.37},{"p":4,"s":"green InGaN TE","x":1850,"y":0.41},{"p":4,"s":"green InGaN TE","x":1882,"y":0.43},{"p":4,"s":"green InGaN TE","x":1920,"y":0.45},{"p":4,"s":"green InGaN TE","x":1956,"y":0.45},{"p":4,"s":"green InGaN TE","x":1990,"y":0.43},{"p":4,"s":"green InGaN TE","x":2030,"y":0.41},{"p":4,"s":"green InGaN TE","x":2080,"y":0.36},{"p":4,"s":"green InGaN TE","x":2141,"y":0.3},{"p":4,"s":"green InGaN TE","x":2200,"y":0.27},{"p":4,"s":"green InGaN TE","x":2252,"y":0.24},{"p":4,"s":"green InGaN TE","x":2300,"y":0.2},{"p":4,"s":"green InGaN TE","x":2363,"y":0.14},{"p":4,"s":"green InGaN TE","x":2400,"y":0.15},{"p":4,"s":"green InGaN TE","x":2437,"y":0.15},{"p":4,"s":"green InGaN TE","x":2490,"y":0.155},{"p":4,"s":"green InGaN TE","x":2548,"y":0.15},{"p":4,"s":"green InGaN TE","x":2620,"y":0.135},{"p":4,"s":"green InGaN TE","x":2696,"y":0.12},{"p":4,"s":"green InGaN TE","x":2770,"y":0.1},{"p":4,"s":"green InGaN TE","x":2845,"y":0.07},{"p":4,"s":"green InGaN TE","x":2920,"y":0.045},{"p":4,"s":"green InGaN TE","x":2993,"y":0.03},{"p":4,"s":"green InGaN TE","x":3050,"y":0.035},{"p":4,"s":"green InGaN TE","x":3100,"y":0.025},{"p":4,"s":"green InGaN TE","x":3150,"y":0.03},{"p":4,"s":"green InGaN TE","x":3200,"y":0.02},{"p":4,"s":"green InGaN TE","x":3300,"y":0.025},{"p":4,"s":"green InGaN TE","x":3400,"y":0.015},{"p":4,"s":"green InGaN TE","x":3500,"y":0.02},{"p":4,"s":"green InGaN TE","x":3600,"y":0.012},{"p":4,"s":"green InGaN TE","x":3700,"y":0.015},{"p":4,"s":"green InGaN TE","x":3800,"y":0.01},{"p":4,"s":"green InGaN TE","x":3900,"y":0.012},{"p":4,"s":"green InGaN TE","x":4000,"y":0.01},
{"p":5,"s":"red InGaP TM","x":540,"y":0},{"p":5,"s":"red InGaP TM","x":600,"y":0.005},{"p":5,"s":"red InGaP TM","x":641,"y":0.016},{"p":5,"s":"red InGaP TM","x":670,"y":0.03},{"p":5,"s":"red InGaP TM","x":696,"y":0.046},{"p":5,"s":"red InGaP TM","x":725,"y":0.07},{"p":5,"s":"red InGaP TM","x":752,"y":0.09},{"p":5,"s":"red InGaP TM","x":790,"y":0.11},{"p":5,"s":"red InGaP TM","x":826,"y":0.13},{"p":5,"s":"red InGaP TM","x":860,"y":0.16},{"p":5,"s":"red InGaP TM","x":900,"y":0.2},{"p":5,"s":"red InGaP TM","x":930,"y":0.28},{"p":5,"s":"red InGaP TM","x":956,"y":0.37},{"p":5,"s":"red InGaP TM","x":990,"y":0.47},{"p":5,"s":"red InGaP TM","x":1030,"y":0.57},{"p":5,"s":"red InGaP TM","x":1065,"y":0.66},{"p":5,"s":"red InGaP TM","x":1104,"y":0.75},{"p":5,"s":"red InGaP TM","x":1140,"y":0.83},{"p":5,"s":"red InGaP TM","x":1178,"y":0.9},{"p":5,"s":"red InGaP TM","x":1215,"y":0.93},{"p":5,"s":"red InGaP TM","x":1252,"y":0.96},{"p":5,"s":"red InGaP TM","x":1290,"y":0.97},{"p":5,"s":"red InGaP TM","x":1310,"y":0.96},{"p":5,"s":"red InGaP TM","x":1326,"y":0.99},{"p":5,"s":"red InGaP TM","x":1345,"y":0.98},{"p":5,"s":"red InGaP TM","x":1370,"y":0.95},{"p":5,"s":"red InGaP TM","x":1400,"y":0.9},{"p":5,"s":"red InGaP TM","x":1440,"y":0.84},{"p":5,"s":"red InGaP TM","x":1474,"y":0.775},{"p":5,"s":"red InGaP TM","x":1500,"y":0.74},{"p":5,"s":"red InGaP TM","x":1530,"y":0.71},{"p":5,"s":"red InGaP TM","x":1550,"y":0.76},{"p":5,"s":"red InGaP TM","x":1565,"y":0.82},{"p":5,"s":"red InGaP TM","x":1578,"y":0.84},{"p":5,"s":"red InGaP TM","x":1595,"y":0.78},{"p":5,"s":"red InGaP TM","x":1622,"y":0.71},{"p":5,"s":"red InGaP TM","x":1650,"y":0.67},{"p":5,"s":"red InGaP TM","x":1678,"y":0.63},{"p":5,"s":"red InGaP TM","x":1700,"y":0.64},{"p":5,"s":"red InGaP TM","x":1725,"y":0.67},{"p":5,"s":"red InGaP TM","x":1752,"y":0.69},{"p":5,"s":"red InGaP TM","x":1790,"y":0.67},{"p":5,"s":"red InGaP TM","x":1844,"y":0.63},{"p":5,"s":"red InGaP TM","x":1900,"y":0.58},{"p":5,"s":"red InGaP TM","x":1956,"y":0.525},{"p":5,"s":"red InGaP TM","x":2010,"y":0.46},{"p":5,"s":"red InGaP TM","x":2067,"y":0.4},{"p":5,"s":"red InGaP TM","x":2104,"y":0.38},{"p":5,"s":"red InGaP TM","x":2140,"y":0.35},{"p":5,"s":"red InGaP TM","x":2196,"y":0.3},{"p":5,"s":"red InGaP TM","x":2240,"y":0.27},{"p":5,"s":"red InGaP TM","x":2289,"y":0.235},{"p":5,"s":"red InGaP TM","x":2330,"y":0.2},{"p":5,"s":"red InGaP TM","x":2363,"y":0.17},{"p":5,"s":"red InGaP TM","x":2390,"y":0.15},{"p":5,"s":"red InGaP TM","x":2419,"y":0.13},{"p":5,"s":"red InGaP TM","x":2445,"y":0.14},{"p":5,"s":"red InGaP TM","x":2474,"y":0.15},{"p":5,"s":"red InGaP TM","x":2500,"y":0.13},{"p":5,"s":"red InGaP TM","x":2548,"y":0.11},{"p":5,"s":"red InGaP TM","x":2590,"y":0.09},{"p":5,"s":"red InGaP TM","x":2641,"y":0.075},{"p":5,"s":"red InGaP TM","x":2700,"y":0.06},{"p":5,"s":"red InGaP TM","x":2770,"y":0.046},{"p":5,"s":"red InGaP TM","x":2850,"y":0.035},{"p":5,"s":"red InGaP TM","x":2956,"y":0.025},{"p":5,"s":"red InGaP TM","x":3050,"y":0.02},{"p":5,"s":"red InGaP TM","x":3150,"y":0.015},{"p":5,"s":"red InGaP TM","x":3250,"y":0.012},{"p":5,"s":"red InGaP TM","x":3350,"y":0.015},{"p":5,"s":"red InGaP TM","x":3450,"y":0.01},{"p":5,"s":"red InGaP TM","x":3550,"y":0.012},{"p":5,"s":"red InGaP TM","x":3650,"y":0.008},{"p":5,"s":"red InGaP TM","x":3750,"y":0.012},{"p":5,"s":"red InGaP TM","x":3850,"y":0.01},{"p":5,"s":"red InGaP TM","x":3950,"y":0.012},{"p":5,"s":"red InGaP TM","x":4000,"y":0.01},
{"p":5,"s":"red InGaP TE","x":640,"y":0},{"p":5,"s":"red InGaP TE","x":680,"y":0.02},{"p":5,"s":"red InGaP TE","x":720,"y":0.035},{"p":5,"s":"red InGaP TE","x":760,"y":0.03},{"p":5,"s":"red InGaP TE","x":800,"y":0.04},{"p":5,"s":"red InGaP TE","x":850,"y":0.03},{"p":5,"s":"red InGaP TE","x":900,"y":0.045},{"p":5,"s":"red InGaP TE","x":950,"y":0.035},{"p":5,"s":"red InGaP TE","x":1000,"y":0.04},{"p":5,"s":"red InGaP TE","x":1050,"y":0.03},{"p":5,"s":"red InGaP TE","x":1100,"y":0.045},{"p":5,"s":"red InGaP TE","x":1150,"y":0.035},{"p":5,"s":"red InGaP TE","x":1200,"y":0.04},{"p":5,"s":"red InGaP TE","x":1250,"y":0.03},{"p":5,"s":"red InGaP TE","x":1300,"y":0.04},{"p":5,"s":"red InGaP TE","x":1350,"y":0.035},{"p":5,"s":"red InGaP TE","x":1400,"y":0.045},{"p":5,"s":"red InGaP TE","x":1450,"y":0.03},{"p":5,"s":"red InGaP TE","x":1500,"y":0.04},{"p":5,"s":"red InGaP TE","x":1550,"y":0.035},{"p":5,"s":"red InGaP TE","x":1600,"y":0.045},{"p":5,"s":"red InGaP TE","x":1650,"y":0.03},{"p":5,"s":"red InGaP TE","x":1700,"y":0.04},{"p":5,"s":"red InGaP TE","x":1750,"y":0.035},{"p":5,"s":"red InGaP TE","x":1800,"y":0.045},{"p":5,"s":"red InGaP TE","x":1850,"y":0.03},{"p":5,"s":"red InGaP TE","x":1900,"y":0.04},{"p":5,"s":"red InGaP TE","x":1950,"y":0.035},{"p":5,"s":"red InGaP TE","x":2000,"y":0.045},{"p":5,"s":"red InGaP TE","x":2050,"y":0.03},{"p":5,"s":"red InGaP TE","x":2100,"y":0.04},{"p":5,"s":"red InGaP TE","x":2150,"y":0.035},{"p":5,"s":"red InGaP TE","x":2200,"y":0.045},{"p":5,"s":"red InGaP TE","x":2250,"y":0.03},{"p":5,"s":"red InGaP TE","x":2300,"y":0.04},{"p":5,"s":"red InGaP TE","x":2350,"y":0.035},{"p":5,"s":"red InGaP TE","x":2400,"y":0.04},{"p":5,"s":"red InGaP TE","x":2450,"y":0.03},{"p":5,"s":"red InGaP TE","x":2500,"y":0.04},{"p":5,"s":"red InGaP TE","x":2550,"y":0.035},{"p":5,"s":"red InGaP TE","x":2600,"y":0.04},{"p":5,"s":"red InGaP TE","x":2650,"y":0.03},{"p":5,"s":"red InGaP TE","x":2700,"y":0.035},{"p":5,"s":"red InGaP TE","x":2750,"y":0.03},{"p":5,"s":"red InGaP TE","x":2800,"y":0.035},{"p":5,"s":"red InGaP TE","x":2850,"y":0.025},{"p":5,"s":"red InGaP TE","x":2900,"y":0.03},{"p":5,"s":"red InGaP TE","x":3000,"y":0.02},{"p":5,"s":"red InGaP TE","x":3100,"y":0.025},{"p":5,"s":"red InGaP TE","x":3200,"y":0.015},{"p":5,"s":"red InGaP TE","x":3300,"y":0.02},{"p":5,"s":"red InGaP TE","x":3400,"y":0.015},{"p":5,"s":"red InGaP TE","x":3500,"y":0.02},{"p":5,"s":"red InGaP TE","x":3600,"y":0.012},{"p":5,"s":"red InGaP TE","x":3700,"y":0.018},{"p":5,"s":"red InGaP TE","x":3800,"y":0.012},{"p":5,"s":"red InGaP TE","x":3900,"y":0.015},{"p":5,"s":"red InGaP TE","x":4000,"y":0.01}
]},
"data":{"name":"d"},
"resolve":{"scale":{"x":"independent","y":"independent","strokeDash":"independent"},"legend":{"strokeDash":"independent"}},
"vconcat":[
{"width":405,"height":80,"transform":[{"filter":"datum.p == 1"}],
 "layer":[
  {"mark":{"type":"line","color":"black","strokeWidth":1.3},
   "encoding":{
    "x":{"field":"x","type":"quantitative","scale":{"domain":[0,4500],"nice":false,"zero":false},"axis":{"orient":"bottom","values":[0,500,1000,1500,2000,2500,3000,3500,4000,4500],"tickSize":{"expr":"datum.value % 1000 === 0 ? -8 : -4"},"labels":false,"title":null}},
    "y":{"field":"y","type":"quantitative","scale":{"domain":[0,1],"nice":false},"axis":{"orient":"left","values":[0.25,0.5,0.75],"tickSize":-5,"labels":false,"title":null}},
    "strokeDash":{"field":"s","type":"nominal","scale":{"domain":["Planck 300 K","diff. Planck"],"range":[[1,0],[5,3]]},"legend":{"title":null,"orient":"none","legendX":238,"legendY":8.5}}}},
  {"mark":{"type":"line","strokeOpacity":0},
   "encoding":{
    "detail":{"field":"s"},
    "x":{"field":"x","type":"quantitative","scale":{"domain":[0,4500],"nice":false,"zero":false},"axis":{"orient":"top","values":[0,500,1000,1500,2000,2500,3000,3500,4000,4500],"tickSize":{"expr":"datum.value % 1000 === 0 ? -8 : -4"},"labels":false,"title":null}},
    "y":{"field":"y","type":"quantitative","scale":{"domain":[0,1],"nice":false},"axis":{"orient":"right","values":[0.25,0.5,0.75],"tickSize":-5,"labels":false,"title":null}}}}
 ],
 "resolve":{"axis":{"x":"independent","y":"independent"}}},
{"width":405,"height":80,"transform":[{"filter":"datum.p == 2"}],
 "layer":[
  {"mark":{"type":"line","color":"black","strokeWidth":1.1},
   "encoding":{
    "x":{"field":"x","type":"quantitative","scale":{"domain":[0,4500],"nice":false,"zero":false},"axis":{"orient":"bottom","values":[0,500,1000,1500,2000,2500,3000,3500,4000,4500],"tickSize":{"expr":"datum.value % 1000 === 0 ? -8 : -4"},"labels":false,"title":null}},
    "y":{"field":"y","type":"quantitative","scale":{"domain":[0,1],"nice":false},"axis":{"orient":"left","values":[0.25,0.5,0.75],"tickSize":-5,"labels":false,"title":null}},
    "strokeDash":{"field":"s","type":"nominal","scale":{"domain":["violet InGaN TM","violet InGaN TE"],"range":[[1,0],[5,3]]},"legend":{"title":null,"orient":"none","legendX":238,"legendY":8.5}}}},
  {"mark":{"type":"line","strokeOpacity":0},
   "encoding":{
    "detail":{"field":"s"},
    "x":{"field":"x","type":"quantitative","scale":{"domain":[0,4500],"nice":false,"zero":false},"axis":{"orient":"top","values":[0,500,1000,1500,2000,2500,3000,3500,4000,4500],"tickSize":{"expr":"datum.value % 1000 === 0 ? -8 : -4"},"labels":false,"title":null}},
    "y":{"field":"y","type":"quantitative","scale":{"domain":[0,1],"nice":false},"axis":{"orient":"right","values":[0.25,0.5,0.75],"tickSize":-5,"labels":false,"title":null}}}}
 ],
 "resolve":{"axis":{"x":"independent","y":"independent"}}},
{"width":405,"height":80,"transform":[{"filter":"datum.p == 3"}],
 "layer":[
  {"mark":{"type":"line","color":"black","strokeWidth":1.3},
   "encoding":{
    "x":{"field":"x","type":"quantitative","scale":{"domain":[0,4500],"nice":false,"zero":false},"axis":{"orient":"bottom","values":[0,500,1000,1500,2000,2500,3000,3500,4000,4500],"tickSize":{"expr":"datum.value % 1000 === 0 ? -8 : -4"},"labels":false,"title":null}},
    "y":{"field":"y","type":"quantitative","scale":{"domain":[0,1],"nice":false},"axis":{"orient":"left","values":[0.25,0.5,0.75],"tickSize":-5,"labels":false,"title":"Intensity [a.u.]","titleFontSize":21,"titlePadding":31}},
    "strokeDash":{"field":"s","type":"nominal","scale":{"domain":["blue InGaN TM","blue InGaN TE"],"range":[[1,0],[5,3]]},"legend":{"title":null,"orient":"none","legendX":233,"legendY":9.5}}}},
  {"mark":{"type":"line","strokeOpacity":0},
   "encoding":{
    "detail":{"field":"s"},
    "x":{"field":"x","type":"quantitative","scale":{"domain":[0,4500],"nice":false,"zero":false},"axis":{"orient":"top","values":[0,500,1000,1500,2000,2500,3000,3500,4000,4500],"tickSize":{"expr":"datum.value % 1000 === 0 ? -8 : -4"},"labels":false,"title":null}},
    "y":{"field":"y","type":"quantitative","scale":{"domain":[0,1],"nice":false},"axis":{"orient":"right","values":[0.25,0.5,0.75],"tickSize":-5,"labels":false,"title":null}}}}
 ],
 "resolve":{"axis":{"x":"independent","y":"independent"}}},
{"width":405,"height":81,"transform":[{"filter":"datum.p == 4"}],
 "layer":[
  {"mark":{"type":"line","color":"black","strokeWidth":1.3},
   "encoding":{
    "x":{"field":"x","type":"quantitative","scale":{"domain":[0,4500],"nice":false,"zero":false},"axis":{"orient":"bottom","values":[0,500,1000,1500,2000,2500,3000,3500,4000,4500],"tickSize":{"expr":"datum.value % 1000 === 0 ? -8 : -4"},"labels":false,"title":null}},
    "y":{"field":"y","type":"quantitative","scale":{"domain":[0,1],"nice":false},"axis":{"orient":"left","values":[0.25,0.5,0.75],"tickSize":-5,"labels":false,"title":null}},
    "strokeDash":{"field":"s","type":"nominal","scale":{"domain":["green InGaN TM","green InGaN TE"],"range":[[1,0],[5,3]]},"legend":{"title":null,"orient":"none","legendX":236,"legendY":10}}}},
  {"mark":{"type":"line","strokeOpacity":0},
   "encoding":{
    "detail":{"field":"s"},
    "x":{"field":"x","type":"quantitative","scale":{"domain":[0,4500],"nice":false,"zero":false},"axis":{"orient":"top","values":[0,500,1000,1500,2000,2500,3000,3500,4000,4500],"tickSize":{"expr":"datum.value % 1000 === 0 ? -8 : -4"},"labels":false,"title":null}},
    "y":{"field":"y","type":"quantitative","scale":{"domain":[0,1],"nice":false},"axis":{"orient":"right","values":[0.25,0.5,0.75],"tickSize":-5,"labels":false,"title":null}}}}
 ],
 "resolve":{"axis":{"x":"independent","y":"independent"}}},
{"width":405,"height":81,"transform":[{"filter":"datum.p == 5"}],
 "layer":[
  {"mark":{"type":"line","color":"black","strokeWidth":1.3},
   "encoding":{
    "x":{"field":"x","type":"quantitative","scale":{"domain":[0,4500],"nice":false,"zero":false},"axis":{"orient":"bottom","values":[0,500,1000,1500,2000,2500,3000,3500,4000,4500],"tickSize":{"expr":"datum.value % 1000 === 0 ? -8 : -4"},"labels":true,"format":"d","labelExpr":"datum.value % 1000 === 0 ? datum.label : ''","labelFontSize":18,"labelPadding":17,"labelFlush":false,"labelOverlap":false,"title":"Wavenumbers [cm⁻¹]","titleFontSize":22,"titlePadding":16}},
    "y":{"field":"y","type":"quantitative","scale":{"domain":[0,1],"nice":false},"axis":{"orient":"left","values":[0.25,0.5,0.75],"tickSize":-5,"labels":false,"title":null}},
    "strokeDash":{"field":"s","type":"nominal","scale":{"domain":["red InGaP TM","red InGaP TE"],"range":[[1,0],[5,3]]},"legend":{"title":null,"orient":"none","legendX":236,"legendY":12}}}},
  {"mark":{"type":"line","strokeOpacity":0},
   "encoding":{
    "detail":{"field":"s"},
    "x":{"field":"x","type":"quantitative","scale":{"domain":[0,4500],"nice":false,"zero":false},"axis":{"orient":"top","values":[0,500,1000,1500,2000,2500,3000,3500,4000,4500],"tickSize":{"expr":"datum.value % 1000 === 0 ? -8 : -4"},"labels":false,"title":null}},
    "y":{"field":"y","type":"quantitative","scale":{"domain":[0,1],"nice":false},"axis":{"orient":"right","values":[0.25,0.5,0.75],"tickSize":-5,"labels":false,"title":null}}}}
 ],
 "resolve":{"axis":{"x":"independent","y":"independent"}}}
]
}
